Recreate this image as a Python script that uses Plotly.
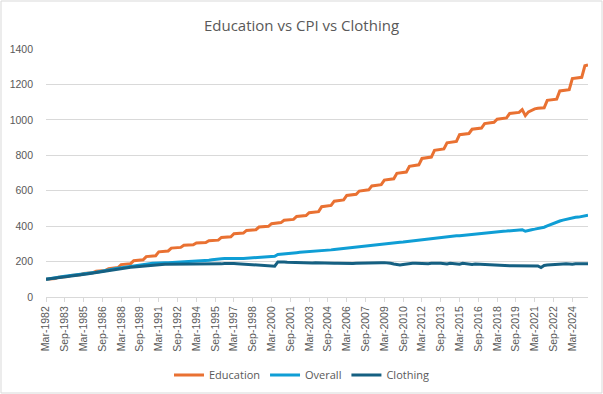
import plotly.graph_objects as go

months = ["Mar", "Jun", "Sep", "Dec"]
years = list(range(1982, 2026))
quarters = [f"{m}-{y}" for y in years for m in months][:174]

education = [
    100, 101, 103, 104,   112, 113, 114, 115,   122, 123, 125, 126,   133, 134, 136, 137,
    145, 147, 148, 150,   160, 162, 164, 166,   183, 185, 187, 188,   205, 207, 209, 210,
    228, 230, 232, 233,   255, 257, 259, 260,   276, 278, 279, 280,   292, 293, 294, 295,
    305, 306, 307, 308,   318, 319, 320, 321,   336, 338, 339, 340,   357, 359, 360, 361,
    376, 378, 379, 380,   395, 397, 398, 399,   414, 416, 419, 420,   433, 435, 437, 438,
    455, 457, 459, 460,   476, 478, 480, 482,   510, 513, 515, 517,   541, 544, 546, 548,
    573, 576, 578, 580,   598, 601, 603, 605,   627, 630, 632, 634,   660, 663, 665, 667,
    698, 701, 703, 705,   738, 741, 744, 746,   782, 785, 788, 790,   828, 831, 834, 836,
    870, 873, 876, 878,   916, 919, 921, 923,   947, 950, 952, 954,   979, 982, 984, 986,
    1004, 1007, 1009, 1011, 1036, 1039, 1041, 1042, 1058, 1024, 1045, 1054, 1062, 1065, 1067, 1068,
    1110, 1113, 1115, 1117, 1163, 1166, 1168, 1170, 1233, 1236, 1238, 1240, 1305, 1310,
]

overall = [
    100, 102, 105, 108,   111, 114, 117, 119,   121, 122, 124, 126,   128, 131, 134, 137,
    140, 143, 147, 150,   153, 156, 159, 162,   165, 167, 169, 172,   174, 177, 180, 183,
    186, 188, 190, 192,   192, 193, 194, 194,   195, 195, 195, 196,   197, 198, 199, 200,
    201, 202, 203, 205,   207, 210, 213, 214,   216, 217, 218, 218,   218, 218, 218, 218,
    219, 220, 221, 222,   222, 223, 224, 226,   228, 230, 240, 241,   244, 246, 247, 248,
    250, 252, 253, 255,   257, 258, 259, 260,   262, 263, 265, 266,   268, 270, 272, 273,
    275, 278, 280, 280,   282, 284, 286, 288,   291, 295, 298, 298,   299, 300, 302, 304,
    306, 309, 310, 312,   316, 320, 322, 322,   322, 324, 328, 330,   331, 333, 336, 338,
    341, 343, 344, 346,   346, 348, 350, 351,   353, 355, 358, 360,   361, 362, 364, 366,
    367, 369, 371, 372,   373, 375, 377, 378,   380, 371, 377, 380,   383, 386, 389, 394,
    401, 409, 417, 424,   429, 434, 439, 443,   446, 450, 451, 454,   457, 462,
]

clothing = [
    100, 102, 105, 107,   110, 113, 115, 117,   119, 121, 123, 125,   127, 130, 133, 136,
    139, 142, 145, 148,   151, 154, 157, 159,   162, 164, 166, 168,   170, 172, 174, 176,
    178, 180, 181, 182,   183, 184, 185, 185,   186, 186, 185, 185,   185, 186, 186, 185,
    184, 185, 185, 184,   185, 186, 186, 185,   187, 189, 190, 189,   189, 188, 187, 186,
    184, 183, 182, 182,   181, 180, 180, 178,   176, 174, 198, 199,   197, 196, 195, 194,
    195, 194, 193, 194,   193, 192, 193, 192,   191, 192, 191, 190,   190, 191, 190, 189,
    189, 190, 189, 190,   191, 192, 193, 193,   194, 195, 195, 194,   194, 193, 190, 186,
    182, 181, 183, 186,   189, 190, 190, 189,   189, 186, 188, 190,   188, 190, 191, 189,
    186, 190, 189, 188,   185, 190, 187, 186,   184, 186, 185, 183,   181, 182, 180, 179,
    177, 178, 177, 176,   176, 177, 177, 176,   177, 175, 176, 176,   176, 175, 166, 178,
    180, 182, 184, 185,   184, 186, 187, 185,   185, 187, 186, 187,   188, 188,
]

tick_labels = quarters[::6]

series = [
    ("Education", education, "#E97132"),
    ("Overall", overall, "#0F9ED5"),
    ("Clothing", clothing, "#156082"),
]

fig = go.Figure()
for name, vals, color in series:
    fig.add_trace(go.Scatter(
        x=quarters, y=vals, name=name, mode="lines",
        line=dict(color=color, width=3),
    ))

fig.update_layout(
    width=603, height=394, autosize=False,
    margin=dict(l=46, r=15, t=49, b=97),
    paper_bgcolor="white", plot_bgcolor="white",
    font=dict(family="Open Sans, Arial, sans-serif", color="#595959"),
    title=dict(text="Education vs CPI vs Clothing", x=0.5, xref="container",
               xanchor="center", y=0.935, yref="container", yanchor="middle",
               font=dict(size=15, color="#595959")),
    showlegend=True,
    legend=dict(orientation="h", x=0.5, xref="container", xanchor="center",
                y=0.048, yref="container", yanchor="middle",
                font=dict(size=11, color="#595959"), itemwidth=30, tracegroupgap=0),
    xaxis=dict(
        type="category", categoryorder="array", categoryarray=quarters,
        range=[0, len(quarters) - 1], automargin=False,
        tickmode="array", tickvals=tick_labels, ticktext=tick_labels,
        tickangle=-90, tickfont=dict(size=10.5, color="#595959", family="Liberation Sans, Arial"),
        showgrid=False, showline=True, linecolor="#D9D9D9", linewidth=1,
        ticks="outside", ticklen=4, tickcolor="#D9D9D9",
        zeroline=False, fixedrange=True,
    ),
    yaxis=dict(
        range=[0, 1400], dtick=200, tick0=0, automargin=False,
        tickfont=dict(size=10.5, color="#595959", family="Liberation Sans, Arial"),
        showgrid=True, gridcolor="#D9D9D9", gridwidth=1,
        zeroline=False, showline=False, ticks="", ticklabelstandoff=12,
    ),
    shapes=[dict(type="rect", xref="paper", yref="paper",
                 x0=(1 - 46) / 542, x1=(602 - 46) / 542,
                 y0=(297 - 393) / 248, y1=(297 - 1) / 248,
                 line=dict(color="#D9D9D9", width=1), layer="below")],
)

fig.write_html("out.html", config={"displayModeBar": False},
               post_script="document.body.style.margin='0';")
